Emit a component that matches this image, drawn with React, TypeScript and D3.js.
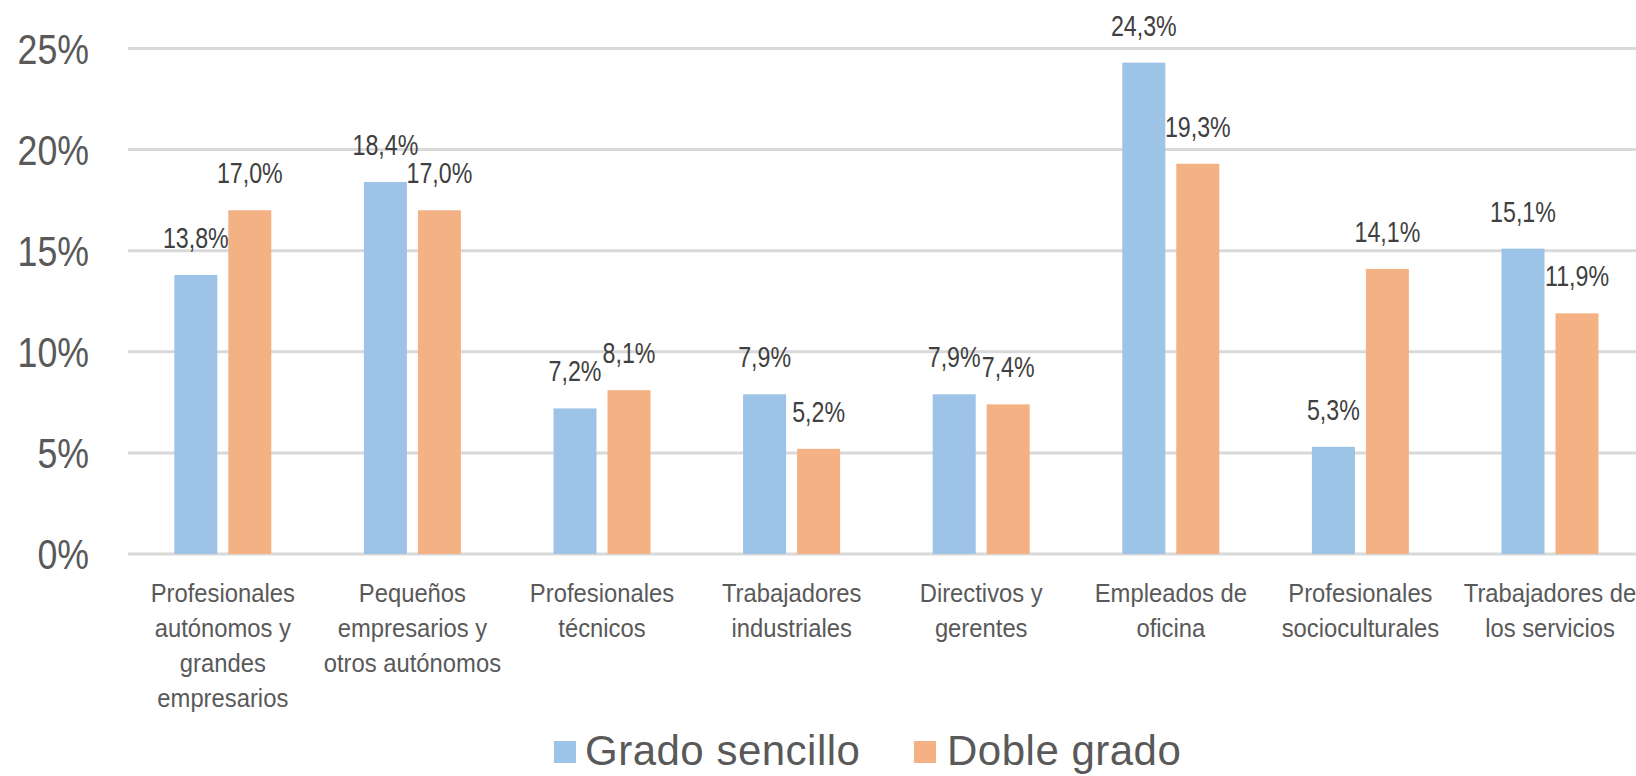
import React from "react";
import * as d3 from "d3";

const categories: string[][] = [
  ["Profesionales", "autónomos y", "grandes", "empresarios"],
  ["Pequeños", "empresarios y", "otros autónomos"],
  ["Profesionales", "técnicos"],
  ["Trabajadores", "industriales"],
  ["Directivos y", "gerentes"],
  ["Empleados de", "oficina"],
  ["Profesionales", "socioculturales"],
  ["Trabajadores de", "los servicios"],
];
const seriesNames = ["Grado sencillo", "Doble grado"];
const gradoSencillo = [13.8, 18.4, 7.2, 7.9, 7.9, 24.3, 5.3, 15.1];
const dobleGrado = [17.0, 17.0, 8.1, 5.2, 7.4, 19.3, 14.1, 11.9];
const yTicks = [0, 5, 10, 15, 20, 25];

const colors = ["#9DC3E6", "#F4B183"];
const W = 1636;
const H = 776;
const FONT = "'Liberation Sans', Arial, sans-serif";

export default function App() {
  const keys = categories.map((_, i) => String(i));
  const x = d3.scaleBand<string>().domain(keys).range([128, 128 + 8 * 189.6]).padding(0);
  const y = d3.scaleLinear().domain([0, 25]).range([554, 48.5]);
  const x1 = d3
    .scaleBand<string>()
    .domain(seriesNames)
    .range([0, 97])
    .paddingInner(11 / 54)
    .paddingOuter(0);
  const series = [gradoSencillo, dobleGrado];
  const fmt = (v: number) => v.toFixed(1).replace(".", ",") + "%";

  return (
    <svg width={W} height={H} style={{ position: "absolute", left: 0, top: 0, background: "#fff" }}>
      {yTicks.map((t) => (
        <g key={t}>
          <line x1={128} x2={W} y1={y(t)} y2={y(t)} stroke="#d9d9d9" strokeWidth={3} />
          <text
            transform={`translate(89,${y(t)}) scale(0.85,1)`}
            dy="0.36em"
            textAnchor="end"
            fontFamily={FONT}
            fontSize={42}
            fill="#595959"
          >
            {t + "%"}
          </text>
        </g>
      ))}
      {keys.map((k, i) => {
        const c = (x(k) as number) + x.bandwidth() / 2;
        const start = c - 48.5;
        return (
          <g key={k}>
            {seriesNames.map((s, si) => {
              const v = series[si][i];
              const bx = start + (x1(s) as number);
              const bw = x1.bandwidth();
              return (
                <g key={s}>
                  <rect x={bx} y={y(v)} width={bw} height={y(0) - y(v)} fill={colors[si]} />
                  <text
                    transform={`translate(${bx + bw / 2},${y(v) - 27}) scale(0.8,1)`}
                    textAnchor="middle"
                    fontFamily={FONT}
                    fontSize={29}
                    fill="#404040"
                  >
                    {fmt(v)}
                  </text>
                </g>
              );
            })}
            {categories[i].map((line, li) => (
              <text
                key={li}
                transform={`translate(${c},${602 + li * 35}) scale(0.93,1)`}
                textAnchor="middle"
                fontFamily={FONT}
                fontSize={25.6}
                fill="#595959"
              >
                {line}
              </text>
            ))}
          </g>
        );
      })}
      <g>
        <rect x={554} y={741} width={22} height={22} fill={colors[0]} />
        <text x={585} y={765} fontFamily={FONT} fontSize={42} letterSpacing={0.5} fill="#595959">
          {seriesNames[0]}
        </text>
        <rect x={914} y={741} width={22} height={22} fill={colors[1]} />
        <text x={947} y={765} fontFamily={FONT} fontSize={42} letterSpacing={0.5} fill="#595959">
          {seriesNames[1]}
        </text>
      </g>
    </svg>
  );
}
